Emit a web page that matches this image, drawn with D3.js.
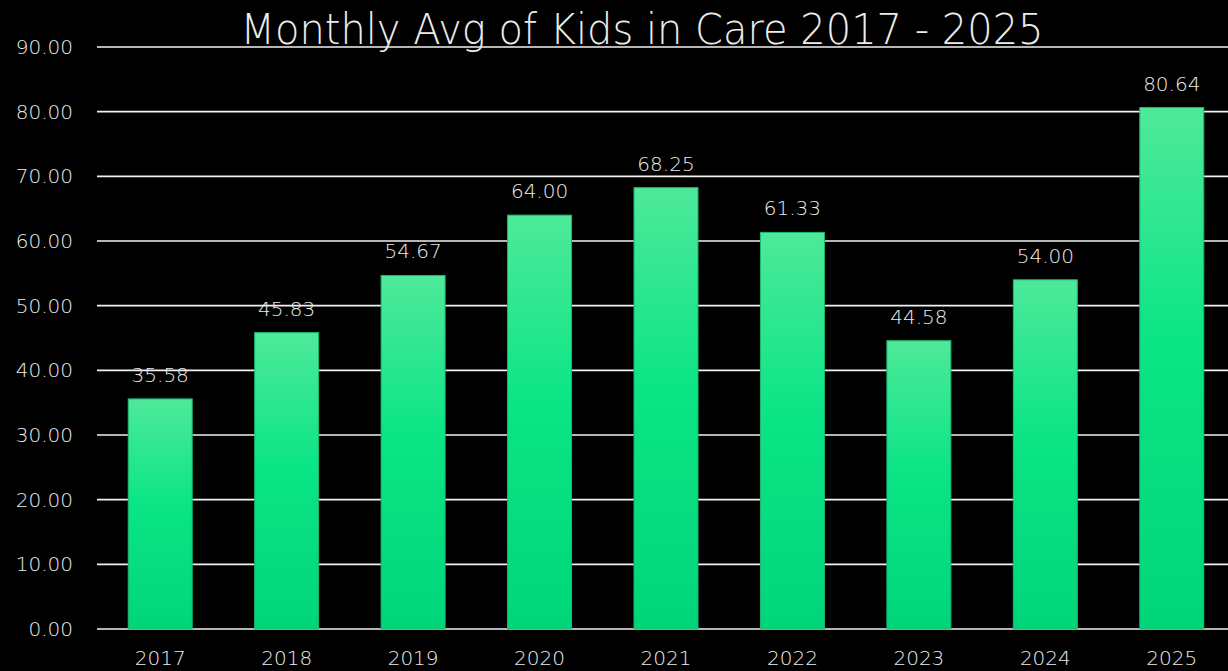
<!DOCTYPE html>
<html lang="en">
<head>
    <meta charset="UTF-8">
    <title>Monthly Avg of Kids in Care</title>
    <script src="https://d3js.org/d3.v7.min.js"></script>
    <style>
        html, body { margin: 0; padding: 0; background: #000; overflow: hidden; }
        text { font-family: "DejaVu Sans", "Open Sans", sans-serif; font-weight: 200; fill: #ececec; }
    </style>
</head>
<body>
<div id="chart"></div>
<script>
    // data
    const years = ["2017", "2018", "2019", "2020", "2021", "2022", "2023", "2024", "2025"];
    const avgKids = [35.58, 45.83, 54.67, 64.00, 68.25, 61.33, 44.58, 54.00, 80.64];
    const yTicks = [0, 10, 20, 30, 40, 50, 60, 70, 80, 90];
    const chartTitle = "Monthly Avg of Kids in Care 2017 - 2025";

    const W = 1228, H = 671;
    const margin = { top: 47, right: -7, bottom: 42, left: 97 };
    const width = W - margin.left - margin.right,
        height = H - margin.top - margin.bottom;

    const svg = d3.select("#chart")
        .append("svg")
        .attr("width", W)
        .attr("height", H);

    const defs = svg.append("defs");
    const grad = defs.append("linearGradient")
        .attr("id", "barGrad")
        .attr("x1", 0).attr("y1", 0).attr("x2", 0).attr("y2", 1);
    grad.append("stop").attr("offset", "0%").attr("stop-color", "#4ee99a");
    grad.append("stop").attr("offset", "45%").attr("stop-color", "#0be585");
    grad.append("stop").attr("offset", "100%").attr("stop-color", "#00d57a");

    const g = svg.append("g")
        .attr("transform", "translate(" + margin.left + "," + margin.top + ")");

    const x = d3.scaleBand()
        .domain(years)
        .range([0, width])
        .paddingInner(0.494)
        .paddingOuter(0.247);

    const y = d3.scaleLinear()
        .domain([0, 90])
        .range([height, 0]);

    // gridlines
    g.append("g")
        .selectAll("line")
        .data(yTicks)
        .join("line")
        .attr("x1", 0)
        .attr("x2", width)
        .attr("y1", d => y(d))
        .attr("y2", d => y(d))
        .attr("stroke", "#f2f2f2")
        .attr("stroke-width", 1.6);

    // y axis labels
    const yAxis = g.append("g")
        .call(d3.axisLeft(y).tickValues(yTicks).tickFormat(d3.format(".2f")).tickSize(0).tickPadding(24));
    yAxis.select(".domain").remove();
    yAxis.attr("font-family", null);
    yAxis.selectAll("text")
        .style("font-size", "20px")
        .attr("fill", null);

    // x axis labels
    const xAxis = g.append("g")
        .attr("transform", "translate(0," + height + ")")
        .call(d3.axisBottom(x).tickSize(0).tickPadding(22));
    xAxis.select(".domain").remove();
    xAxis.attr("font-family", null);
    xAxis.selectAll("text")
        .style("font-size", "20px")
        .attr("fill", null);

    // bars
    g.selectAll(".bar")
        .data(avgKids)
        .join("rect")
        .attr("class", "bar")
        .attr("x", (d, i) => x(years[i]))
        .attr("y", d => y(d))
        .attr("width", x.bandwidth())
        .attr("height", d => y(0) - y(d))
        .attr("fill", "url(#barGrad)")
        .attr("stroke", "#1fb873")
        .attr("stroke-width", 1);

    // value labels
    g.selectAll(".label")
        .data(avgKids)
        .join("text")
        .attr("class", "label")
        .attr("x", (d, i) => x(years[i]) + x.bandwidth() / 2)
        .attr("y", d => y(d) - 17)
        .attr("text-anchor", "middle")
        .style("font-size", "20px")
        .text(d => d.toFixed(2));

    // title
    svg.append("text")
        .attr("x", 642)
        .attr("y", 44)
        .attr("text-anchor", "middle")
        .style("font-size", "42px")
        .attr("textLength", 803)
        .attr("lengthAdjust", "spacingAndGlyphs")
        .text(chartTitle);
</script>
</body>
</html>
